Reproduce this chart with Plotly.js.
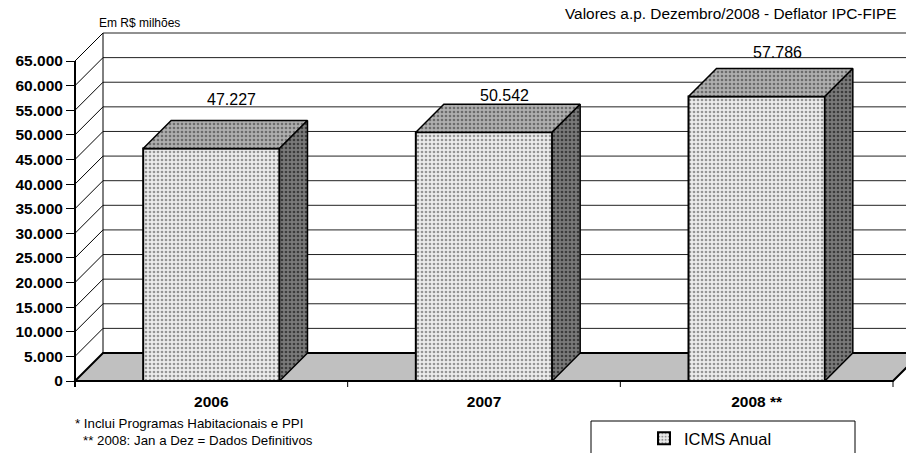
<!DOCTYPE html>
<html><head><meta charset="utf-8">
<script src="https://cdn.plot.ly/plotly-3.0.1.min.js"></script>
<style>html,body{margin:0;padding:0;background:#fff}</style>
</head><body><div id="chart" style="width:906px;height:453px"></div>
<script>
// ---- data ----
const categories = ['2006', '2007', '2008 **'];
const icmsAnual = [47227, 50542, 57786];
const valueLabels = ['47.227', '50.542', '57.786'];
const seriesName = 'ICMS Anual';
const yTickValues = [0, 5000, 10000, 15000, 20000, 25000, 30000, 35000, 40000, 45000, 50000, 55000, 60000, 65000];
const yTickLabels = ['0', '5.000', '10.000', '15.000', '20.000', '25.000', '30.000', '35.000', '40.000', '45.000', '50.000', '55.000', '60.000', '65.000'];
const unitNote = 'Em R$ milhões';
const sourceNote = 'Valores a.p. Dezembro/2008 - Deflator IPC-FIPE';
const footnote1 = '* Inclui Programas Habitacionais e PPI';
const footnote2 = '** 2008: Jan a Dez = Dados Definitivos';

// ---- geometry / style ----
const W = 906, H = 453, ML = 60, MR = 0, MT = 30, MB = 66;
const catPx = 818 / 3;           // pixels per category
const valPx = 320 / 65000;       // pixels per value unit
const xMin = -0.5 - 15 / catPx;
const xMax = xMin + (W - ML - MR) / catPx;
const yMin = -6 / valPx;
const yMax = yMin + (H - MT - MB) / valPx;
const DX = 28 / catPx, DY = 28 / valPx;   // 3-D depth offset
const HW = 0.25;                          // half bar width
const FONT = 'Arial, "Liberation Sans", sans-serif';
const labelShift = [21, 9, 16];
const px2x = p => (p - ML) / (W - ML - MR);
const px2y = p => (H - MB - p) / (H - MT - MB);
const xs = categories.map((c, i) => i);

// ---- bar 3-D faces ----
const topX = [], topY = [], sideX = [], sideY = [];
icmsAnual.forEach((v, i) => {
  topX.push(i - HW, i + HW, i + HW + DX, i - HW + DX, i - HW, null);
  topY.push(v, v, v + DY, v + DY, v, null);
  sideX.push(i + HW, i + HW, i + HW + DX, i + HW + DX, i + HW, null);
  sideY.push(0, v, v + DY, DY, 0, null);
});

const traces = [
  {
    type: 'bar', x: xs, y: icmsAnual, width: 2 * HW, name: seriesName,
    marker: {
      color: '#e3e3e3',
      line: {color: '#000', width: 2},
      pattern: {shape: '.', fgcolor: '#959595', bgcolor: '#ececec', size: 4, solidity: 0.35, fillmode: 'replace'}
    },
    hoverinfo: 'skip', showlegend: true
  },
  {
    type: 'scatter', mode: 'lines', x: topX, y: topY, fill: 'toself',
    fillcolor: '#a8a8a8',
    fillpattern: {shape: '.', fgcolor: '#6c6c6c', bgcolor: '#afafaf', size: 4, solidity: 0.35, fillmode: 'replace'},
    line: {color: '#000', width: 1.5}, hoverinfo: 'skip', showlegend: false
  },
  {
    type: 'scatter', mode: 'lines', x: sideX, y: sideY, fill: 'toself',
    fillcolor: '#707070',
    fillpattern: {shape: '.', fgcolor: '#3c3c3c', bgcolor: '#7a7a7a', size: 4, solidity: 0.35, fillmode: 'replace'},
    line: {color: '#000', width: 1.5}, hoverinfo: 'skip', showlegend: false
  }
];

// ---- walls, floor, grid ----
const shapes = [];
shapes.push({type: 'path', xref: 'x', yref: 'y', layer: 'below',
  path: `M ${-0.5},0 L ${2.5},0 L ${2.5 + DX},${DY} L ${-0.5 + DX},${DY} Z`,
  fillcolor: '#c0c0c0', line: {color: '#000', width: 2}});
yTickValues.forEach(v => {
  if (v > 0) {
    shapes.push({type: 'line', xref: 'x', yref: 'y', layer: 'below',
      x0: -0.5 + DX, x1: xMax + 1, y0: v + DY, y1: v + DY, line: {color: '#222', width: 1}});
  }
  shapes.push({type: 'line', xref: 'x', yref: 'y', layer: 'below',
    x0: -0.5, x1: -0.5 + DX, y0: v, y1: v + DY, line: {color: '#000', width: 1}});
});
shapes.push({type: 'line', xref: 'x', yref: 'y', layer: 'below',
  x0: -0.5 + DX, x1: -0.5 + DX, y0: DY, y1: 65000 + DY, line: {color: '#000', width: 1}});
shapes.push({type: 'line', xref: 'x', yref: 'y', layer: 'above',
  x0: -0.5, x1: -0.5, y0: yMin, y1: 65000, line: {color: '#000', width: 2}});
[-0.5, 0.5, 1.5, 2.5].forEach(b => {
  shapes.push({type: 'line', xref: 'x', yref: 'y', layer: 'above',
    x0: b, x1: b, y0: 0, y1: yMin, line: {color: '#000', width: 1}});
});
// legend frame
shapes.push({type: 'rect', xref: 'paper', yref: 'paper',
  x0: px2x(591), x1: px2x(855), y0: px2y(421), y1: px2y(470),
  line: {color: '#000', width: 1}, fillcolor: 'rgba(0,0,0,0)'});

// ---- annotations ----
const annotations = icmsAnual.map((v, i) => ({
  x: i + 0.075, y: v + DY, xref: 'x', yref: 'y', text: valueLabels[i], showarrow: false,
  yanchor: 'middle', yshift: labelShift[i], font: {family: FONT, size: 16, color: '#000'}
}));
annotations.push({xref: 'paper', yref: 'paper', x: px2x(139), y: px2y(23), text: unitNote,
  showarrow: false, xanchor: 'center', yanchor: 'middle', font: {family: FONT, size: 12, color: '#000'}});
annotations.push({xref: 'paper', yref: 'paper', x: px2x(899), y: px2y(14), text: sourceNote,
  showarrow: false, xanchor: 'right', yanchor: 'middle', font: {family: FONT, size: 15.4, color: '#000'}});
annotations.push({xref: 'paper', yref: 'paper', x: px2x(73), y: px2y(423), text: footnote1,
  showarrow: false, xanchor: 'left', yanchor: 'middle', font: {family: FONT, size: 13.3, color: '#000'}});
annotations.push({xref: 'paper', yref: 'paper', x: px2x(81), y: px2y(441), text: footnote2,
  showarrow: false, xanchor: 'left', yanchor: 'middle', font: {family: FONT, size: 13.3, color: '#000'}});

const layout = {
  width: W, height: H,
  margin: {l: ML, r: MR, t: MT, b: MB, pad: 0, autoexpand: false},
  paper_bgcolor: '#fff', plot_bgcolor: 'rgba(0,0,0,0)',
  separators: ',.',
  font: {family: FONT, color: '#000'},
  xaxis: {
    range: [xMin, xMax], tickvals: xs, ticktext: categories, ticks: '', ticklabelstandoff: 3,
    showgrid: false, zeroline: false, showline: false, fixedrange: true, automargin: false,
    tickfont: {family: FONT, size: 15.5, color: '#000', weight: 'bold'}
  },
  yaxis: {
    range: [yMin, yMax], tickvals: yTickValues, ticktext: yTickLabels,
    anchor: 'free', position: px2x(75), ticks: 'outside', ticklen: 9, tickwidth: 1, tickcolor: '#000',
    showgrid: false, zeroline: false, showline: false, fixedrange: true, automargin: false,
    tickfont: {family: FONT, size: 15.5, color: '#000', weight: 'bold'}
  },
  showlegend: true,
  legend: {x: px2x(644), y: px2y(421), xanchor: 'left', yanchor: 'top', bgcolor: 'rgba(0,0,0,0)',
    borderwidth: 0, font: {family: FONT, size: 16.5, color: '#000'}},
  shapes: shapes,
  annotations: annotations
};

Plotly.newPlot('chart', traces, layout, {displayModeBar: false, staticPlot: true});
</script>
</body></html>
